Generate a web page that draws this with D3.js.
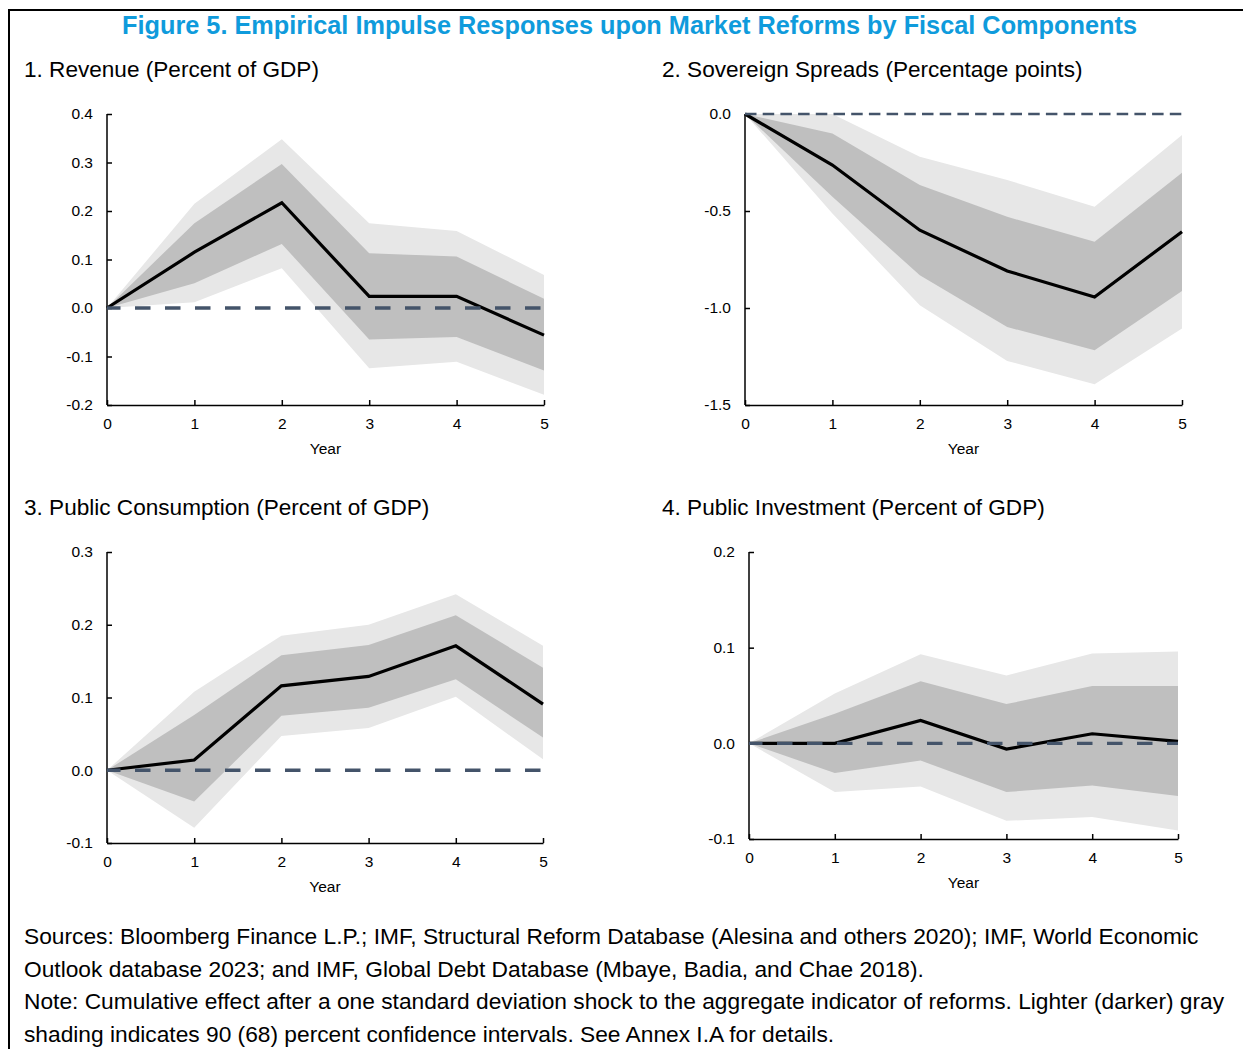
<!DOCTYPE html>
<html>
<head>
<meta charset="utf-8">
<script src="https://cdn.jsdelivr.net/npm/d3@7"></script>
<style>
  html, body { margin: 0; padding: 0; background: #fff; }
  svg { display: block; font-family: "Liberation Sans", Arial, sans-serif; }
  .axis path, .axis line { stroke: #000; stroke-width: 1.5; }
  .axis text { font-size: 15.5px; fill: #000; }
</style>
</head>
<body>
<svg id="chart" width="1243" height="1049"></svg>
<script>
// ──────────────  data

const years = [0, 1, 2, 3, 4, 5];

// 1. Revenue
const revenueIrf  = [0, 0.115, 0.217, 0.024, 0.024, -0.056];
const revenueHi68 = [0, 0.175, 0.297, 0.113, 0.106, 0.019];
const revenueLo68 = [0, 0.051, 0.132, -0.065, -0.060, -0.129];
const revenueHi90 = [0, 0.215, 0.348, 0.175, 0.159, 0.068];
const revenueLo90 = [0, 0.012, 0.082, -0.124, -0.111, -0.179];

// 2. Sovereign spreads
const spreadsIrf  = [0, -0.263, -0.599, -0.809, -0.943, -0.607];
const spreadsHi68 = [0, -0.100, -0.366, -0.530, -0.659, -0.303];
const spreadsLo68 = [0, -0.427, -0.831, -1.098, -1.218, -0.912];
const spreadsHi90 = [0, 0.000, -0.220, -0.340, -0.478, -0.108];
const spreadsLo90 = [0, -0.513, -0.986, -1.273, -1.393, -1.106];

// 3. Public consumption
const consIrf  = [0, 0.014, 0.116, 0.129, 0.171, 0.091];
const consHi68 = [0, 0.076, 0.158, 0.172, 0.213, 0.141];
const consLo68 = [0, -0.043, 0.075, 0.086, 0.125, 0.045];
const consHi90 = [0, 0.108, 0.185, 0.200, 0.242, 0.171];
const consLo90 = [0, -0.079, 0.047, 0.058, 0.101, 0.015];

// 4. Public investment
const invIrf  = [0, 0.000, 0.024, -0.006, 0.010, 0.002];
const invHi68 = [0, 0.031, 0.065, 0.041, 0.060, 0.060];
const invLo68 = [0, -0.031, -0.018, -0.051, -0.044, -0.055];
const invHi90 = [0, 0.052, 0.093, 0.071, 0.094, 0.096];
const invLo90 = [0, -0.051, -0.045, -0.081, -0.077, -0.091];

const revenueTicks = [-0.2, -0.1, 0, 0.1, 0.2, 0.3, 0.4];
const spreadsTicks = [-1.5, -1.0, -0.5, 0];
const consTicks    = [-0.1, 0, 0.1, 0.2, 0.3];
const invTicks     = [-0.1, 0, 0.1, 0.2];

const titleText = 'Figure 5. Empirical Impulse Responses upon Market Reforms by Fiscal Components';
const panelTitles = [
  '1. Revenue (Percent of GDP)',
  '2. Sovereign Spreads (Percentage points)',
  '3. Public Consumption (Percent of GDP)',
  '4. Public Investment (Percent of GDP)',
];
const footerLines = [
  'Sources: Bloomberg Finance L.P.; IMF, Structural Reform Database (Alesina and others 2020); IMF, World Economic',
  'Outlook database 2023; and IMF, Global Debt Database (Mbaye, Badia, and Chae 2018).',
  'Note: Cumulative effect after a one standard deviation shock to the aggregate indicator of reforms. Lighter (darker) gray',
  'shading indicates 90 (68) percent confidence intervals. See Annex I.A for details.',
];

// ──────────────  layout

const LIGHT = '#e7e7e7';
const DARK  = '#bfbfbf';
const ZERO  = '#44546a';

const panels = [
  { title: panelTitles[0], tx: 24,  ty: 77,  x0: 107, x1: 544,  yTop: 114, yBot: 405,
    domain: [-0.2, 0.4], ticks: revenueTicks, irf: revenueIrf, hi68: revenueHi68, lo68: revenueLo68,
    hi90: revenueHi90, lo90: revenueLo90, dash: '15.5,14.5', dashW: 3.4, dashOff: 2 },
  { title: panelTitles[1], tx: 662, ty: 77,  x0: 745, x1: 1182, yTop: 114, yBot: 405,
    domain: [-1.5, 0], ticks: spreadsTicks, irf: spreadsIrf, hi68: spreadsHi68, lo68: spreadsLo68,
    hi90: spreadsHi90, lo90: spreadsLo90, dash: '11.5,6.2', dashW: 2.5, dashOff: 0 },
  { title: panelTitles[2], tx: 24,  ty: 515, x0: 107, x1: 543,  yTop: 552, yBot: 843,
    domain: [-0.1, 0.3], ticks: consTicks, irf: consIrf, hi68: consHi68, lo68: consLo68,
    hi90: consHi90, lo90: consLo90, dash: '15.5,14.5', dashW: 3.4, dashOff: 2 },
  { title: panelTitles[3], tx: 662, ty: 515, x0: 749, x1: 1178, yTop: 552, yBot: 839,
    domain: [-0.1, 0.2], ticks: invTicks, irf: invIrf, hi68: invHi68, lo68: invLo68,
    hi90: invHi90, lo90: invLo90, dash: '15.5,14.5', dashW: 3.4, dashOff: 2 },
];

const svg = d3.select('#chart');
const fmt = v => d3.format('.1f')(v).replace('−', '-');

// frame (only top and left edges are visible in the reference)
svg.append('path')
  .attr('d', 'M9,1049V10H1243')
  .attr('fill', 'none')
  .attr('stroke', '#000')
  .attr('stroke-width', 2);

// font size that makes a text node span a given width
function fitSize(sel, target) {
  const w = sel.node().getComputedTextLength();
  const fs = parseFloat(sel.attr('font-size'));
  return fs * target / w;
}

const title = svg.append('text')
  .attr('x', 629.5).attr('y', 34)
  .attr('text-anchor', 'middle')
  .attr('font-size', 24)
  .attr('font-weight', 'bold')
  .attr('fill', '#0f9bdc')
  .text(titleText);
title.attr('font-size', fitSize(title, 1015).toFixed(2));

let subSize = 22;
panels.forEach((p, i) => {
  const t = svg.append('text')
    .attr('x', p.tx).attr('y', p.ty)
    .attr('font-size', 22)
    .attr('fill', '#000')
    .text(p.title);
  if (i === 0) subSize = fitSize(t, 295).toFixed(2);
  t.attr('font-size', subSize);

  const x = d3.scaleLinear().domain([0, 5]).range([p.x0, p.x1]);
  const y = d3.scaleLinear().domain(p.domain).range([p.yBot, p.yTop]);
  const g = svg.append('g').attr('class', 'panel');

  const band = (lo, hi) => d3.area()
    .x((d, k) => x(years[k]))
    .y0((d, k) => y(lo[k]))
    .y1((d, k) => y(hi[k]))(years);

  g.append('path').attr('d', band(p.lo90, p.hi90)).attr('fill', LIGHT);
  g.append('path').attr('d', band(p.lo68, p.hi68)).attr('fill', DARK);

  g.append('g').attr('class', 'axis')
    .attr('transform', `translate(${p.x0},0)`)
    .call(d3.axisLeft(y).tickValues(p.ticks).tickFormat(fmt).tickSize(-5).tickSizeOuter(0).tickPadding(14))
    .call(a => a.select('.domain').attr('d', `M0,${p.yTop}V${p.yBot}`));

  g.append('g').attr('class', 'axis')
    .attr('transform', `translate(0,${p.yBot})`)
    .call(d3.axisBottom(x).tickValues(years).tickFormat(d3.format('d')).tickSize(-5).tickSizeOuter(0).tickPadding(13));

  g.selectAll('.axis text').attr('font-family', null).attr('font-size', null);

  g.append('path')
    .datum(p.irf)
    .attr('d', d3.line().x((d, k) => x(years[k])).y(d => y(d)))
    .attr('fill', 'none')
    .attr('stroke', '#000')
    .attr('stroke-width', 3.2)
    .attr('stroke-linejoin', 'miter');

  g.append('line')
    .attr('x1', x(0)).attr('x2', x(5))
    .attr('y1', y(0)).attr('y2', y(0))
    .attr('stroke', ZERO)
    .attr('stroke-width', p.dashW)
    .attr('stroke-dasharray', p.dash)
    .attr('stroke-dashoffset', p.dashOff);

  g.append('text')
    .attr('x', (p.x0 + p.x1) / 2)
    .attr('y', p.yBot + 48.5)
    .attr('text-anchor', 'middle')
    .attr('font-size', 15.5)
    .text('Year');
});

// footer: size chosen so the first and third lines both land near their reference widths
const foot = svg.append('g');
const footBase = [944, 976.5, 1009, 1041.5];
const footText = footerLines.map((line, k) => foot.append('text')
  .attr('x', 24).attr('y', footBase[k])
  .attr('font-size', 20)
  .text(line));
const footSize = (fitSize(footText[0], 1179) + fitSize(footText[2], 1196)) / 2;
footText.forEach(t => t.attr('font-size', footSize.toFixed(2)));
</script>
</body>
</html>
